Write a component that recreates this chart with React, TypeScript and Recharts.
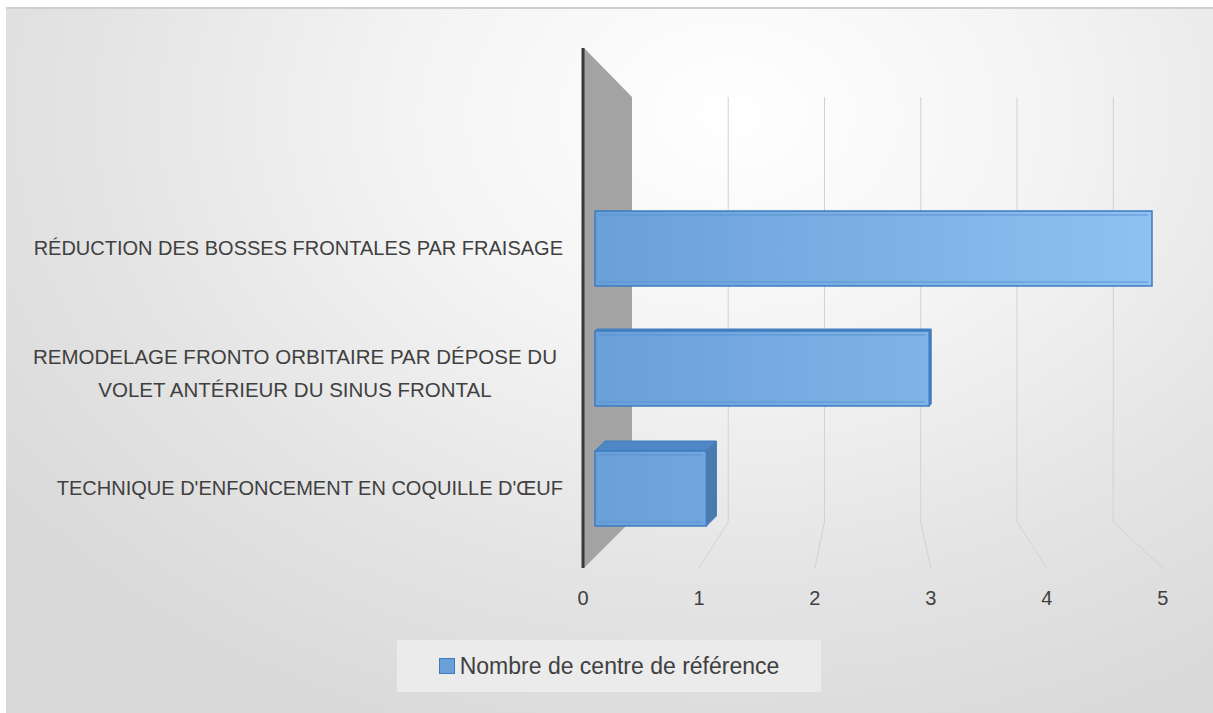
import React from 'react';
import { BarChart, Bar, XAxis, YAxis, Legend, ReferenceArea } from 'recharts';

// Catégories (de haut en bas) et valeurs de la série
const categories = [
  'RÉDUCTION DES  BOSSES FRONTALES PAR FRAISAGE',
  'REMODELAGE FRONTO ORBITAIRE PAR DÉPOSE DU\nVOLET ANTÉRIEUR DU SINUS FRONTAL',
  "TECHNIQUE D'ENFONCEMENT EN COQUILLE D'ŒUF",
];
const centres = [5, 3, 1];
const xTicks = [0, 1, 2, 3, 4, 5];
const seriesName = 'Nombre de centre de référence';

const data = categories.map((name, i) => ({ name, value: centres[i] }));

const W = 1213;
const H = 713;
const PLOT_LEFT = 595;
const FONT = '"Liberation Sans", Arial, sans-serif';
const TEXT = '#404040';

// petit écart de perspective entre le plan des barres et les étiquettes
const spread = (x: number) => PLOT_LEFT - 12 + (x - PLOT_LEFT) * 1.041;

const XTick = (props: any) => {
  const { x, y, payload } = props;
  return (
    <text x={spread(x)} y={y + 49} textAnchor="middle" fill={TEXT} fontSize={20} fontFamily={FONT}>
      {payload.value}
    </text>
  );
};

const YTick = (props: any) => {
  const { x, y, payload } = props;
  const lines = String(payload.value).split('\n');
  if (lines.length === 1) {
    return (
      <text x={x - 24} y={y + 7} textAnchor="end" fill={TEXT} fontSize={20} fontFamily={FONT}>
        {lines[0]}
      </text>
    );
  }
  return (
    <text x={x - 292} y={y - 4} textAnchor="middle" fill={TEXT} fontSize={20.5} fontFamily={FONT}>
      {lines.map((l, i) => (
        <tspan key={i} x={x - 292} dy={i === 0 ? 0 : 33}>{l}</tspan>
      ))}
    </text>
  );
};

// mur latéral gris + quadrillage du fond, calés sur la zone de tracé
const Walls = (props: any) => {
  const { x, y, width, height } = props;
  const bottom = y + height;
  const backX = (v: number) => x + 37 + (v / 5) * width * 0.864;
  const frontX = (v: number) => x - 12 + (v / 5) * width * 1.041;
  return (
    <g>
      <polygon
        points={`${x - 11},${y - 140} ${x + 37},${y - 91} ${x + 37},${bottom - 28} ${x - 11},${bottom + 20}`}
        fill="#a3a3a3"
      />
      {xTicks.slice(1).map((v) => (
        <polyline
          key={v}
          points={`${backX(v)},${y - 91} ${backX(v)},${bottom - 26} ${frontX(v)},${bottom + 20}`}
          fill="none"
          stroke="#d2d2d2"
          strokeWidth={1}
        />
      ))}
      <line x1={x - 12} y1={y - 140} x2={x - 12} y2={bottom + 20} stroke="#3a3a3a" strokeWidth={3} />
    </g>
  );
};

const Bar3D = (props: any) => {
  const { x, y, width, height, index } = props;
  const d = index === 2 ? 10 : index * 2;
  return (
    <g>
      {d > 0 && (
        <>
          <polygon
            points={`${x},${y} ${x + d},${y - d} ${x + width + d},${y - d} ${x + width},${y}`}
            fill="#4f87c6"
            stroke="#3d7cc0"
            strokeWidth={1}
          />
          <polygon
            points={`${x + width},${y} ${x + width + d},${y - d} ${x + width + d},${y + height - d} ${x + width},${y + height}`}
            fill="#4c7aab"
            stroke="#3d7cc0"
            strokeWidth={1}
          />
        </>
      )}
      <rect x={x} y={y} width={width} height={height} fill="url(#barGrad)" stroke="#3d7cc0" strokeWidth={1.5} />
      <line x1={x + 4} y1={y + 4} x2={x + width - 4} y2={y + 4} stroke="#5b93d1" strokeWidth={1} />
      <line x1={x + 4} y1={y + height - 4} x2={x + width - 4} y2={y + height - 4} stroke="#5b93d1" strokeWidth={1} />
    </g>
  );
};

const LegendBox = () => (
  <div
    style={{
      width: 424,
      height: 52,
      background: '#ebebeb',
      display: 'flex',
      alignItems: 'center',
      justifyContent: 'center',
      fontFamily: FONT,
      fontSize: 23,
      color: TEXT,
    }}
  >
    <span
      style={{
        display: 'inline-block',
        width: 14,
        height: 14,
        background: '#6a9fd8',
        border: '1px solid #3d7cc0',
        marginRight: 5,
      }}
    />
    {seriesName}
  </div>
);

export default function App() {
  return (
    <div style={{ position: 'absolute', left: 0, top: 0, width: W, height: H, background: '#fff' }}>
      <div
        style={{
          position: 'absolute',
          left: 6,
          top: 7,
          right: 0,
          bottom: 0,
          borderTop: '2px solid #cfcfcf',
          background: 'radial-gradient(ellipse 75% 95% at 60% 15%, #ffffff 0%, #f4f4f4 35%, #e4e4e4 70%, #d9d9d9 100%)',
        }}
      />
      <div style={{ position: 'absolute', left: 0, top: 0 }}>
        <BarChart
          width={W}
          height={H}
          data={data}
          layout="vertical"
          barSize={75}
          margin={{ top: 188, right: 61, left: 0, bottom: 21 }}
        >
          <defs>
            <linearGradient id="barGrad" x1={PLOT_LEFT} y1={0} x2={1152} y2={0} gradientUnits="userSpaceOnUse">
              <stop offset="0%" stopColor="#6a9fd8" />
              <stop offset="100%" stopColor="#8fc2f3" />
            </linearGradient>
          </defs>
          <XAxis
            type="number"
            domain={[0, 5]}
            ticks={xTicks}
            axisLine={false}
            tickLine={false}
            tick={<XTick />}
            height={92}
          />
          <YAxis
            type="category"
            dataKey="name"
            width={PLOT_LEFT}
            axisLine={false}
            tickLine={false}
            tick={<YTick />}
            interval={0}
          />
          <ReferenceArea x1={0} x2={5} shape={<Walls />} ifOverflow="visible" />
          <Legend
            verticalAlign="bottom"
            content={<LegendBox />}
            wrapperStyle={{ left: 397, width: 424 }}
          />
          <Bar dataKey="value" name={seriesName} shape={<Bar3D />} isAnimationActive={false} />
        </BarChart>
      </div>
    </div>
  );
}
